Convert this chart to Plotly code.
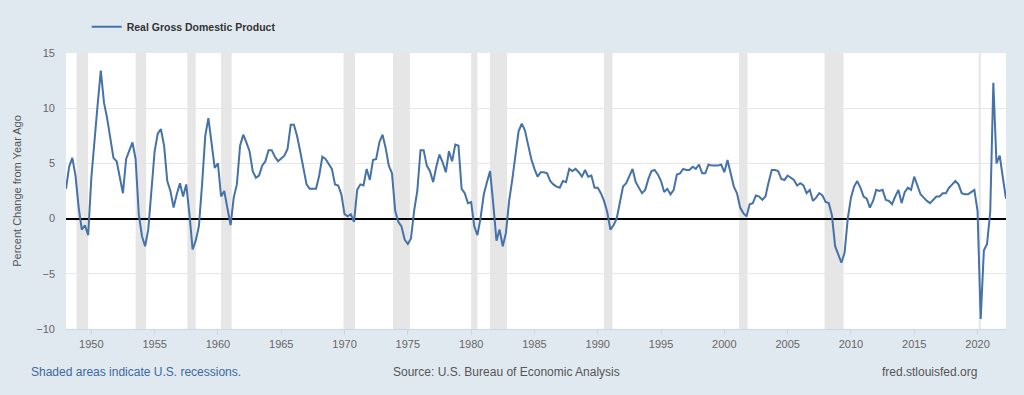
import pandas as pd
import plotly.graph_objects as go

# Real GDP, percent change from year ago, quarterly from 1948 Q1
start_quarter = "1948-01-01"
gdp_pc1 = [
    2.7, 4.7, 5.5, 3.9, 1.0, -1.0, -0.6, -1.5,            # 1948-1949
    3.7, 7.2, 10.3, 13.4, 10.5, 9.1, 7.2, 5.5,            # 1950-1951
    5.2, 3.7, 2.3, 5.4, 6.1, 6.9, 5.4, 0.4,               # 1952-1953
    -1.6, -2.5, -1.0, 2.8, 6.1, 7.7, 8.1, 6.6,            # 1954-1955
    3.4, 2.5, 1.0, 2.2, 3.2, 2.0, 3.1, 0.4,               # 1956-1957
    -2.8, -2.0, -0.7, 3.1, 7.5, 9.1, 6.9, 4.6,            # 1958-1959
    5.0, 2.0, 2.5, 1.0, -0.6, 1.9, 3.1, 6.6,              # 1960-1961
    7.6, 6.9, 6.1, 4.3, 3.7, 3.9, 4.8, 5.2,               # 1962-1963
    6.2, 6.2, 5.6, 5.2, 5.5, 5.7, 6.3, 8.5,               # 1964-1965
    8.5, 7.5, 6.1, 4.5, 3.1, 2.7, 2.7, 2.7,               # 1966-1967
    3.9, 5.6, 5.4, 5.0, 4.5, 3.1, 3.0, 2.2,               # 1968-1969
    0.4, 0.2, 0.4, -0.3, 2.6, 3.1, 3.0, 4.5,              # 1970-1971
    3.5, 5.3, 5.4, 6.9, 7.6, 6.4, 4.8, 4.1,               # 1972-1973
    0.7, -0.3, -0.7, -1.9, -2.3, -1.8, 0.7, 2.5,          # 1974-1975
    6.2, 6.2, 4.8, 4.3, 3.3, 4.7, 5.8, 5.1,               # 1976-1977
    4.2, 6.1, 5.2, 6.7, 6.6, 2.7, 2.3, 1.4,               # 1978-1979
    1.5, -0.7, -1.5, 0.1, 2.2, 3.3, 4.3, 1.3,             # 1980-1981
    -2.0, -1.0, -2.5, -1.3, 1.6, 3.5, 5.7, 7.9,           # 1982-1983
    8.6, 8.0, 6.7, 5.4, 4.5, 3.8, 4.2, 4.2,               # 1984-1985
    4.1, 3.4, 3.1, 2.9, 2.8, 3.4, 3.3, 4.5,               # 1986-1987
    4.3, 4.5, 4.2, 3.8, 4.4, 3.8, 3.9, 2.8,               # 1988-1989
    2.8, 2.3, 1.6, 0.6, -1.0, -0.6, 0.0, 1.6,             # 1990-1991
    2.9, 3.2, 3.8, 4.5, 3.3, 2.8, 2.3, 2.6,               # 1992-1993
    3.6, 4.3, 4.4, 4.0, 3.4, 2.4, 2.7, 2.2,               # 1994-1995
    2.6, 4.0, 4.1, 4.5, 4.4, 4.4, 4.7, 4.5,               # 1996-1997
    4.9, 4.1, 4.1, 4.9, 4.8, 4.8, 4.8, 4.9,               # 1998-1999
    4.2, 5.3, 4.0, 2.9, 2.3, 1.0, 0.5, 0.2,               # 2000-2001
    1.3, 1.4, 2.1, 2.0, 1.7, 2.0, 3.3, 4.4,               # 2002-2003
    4.4, 4.3, 3.6, 3.5, 3.9, 3.7, 3.5, 3.0,               # 2004-2005
    3.2, 3.0, 2.3, 2.6, 1.6, 1.9, 2.3, 2.1,               # 2006-2007
    1.5, 1.4, 0.3, -2.5, -3.2, -4.0, -3.1, 0.0,           # 2008-2009
    1.9, 2.9, 3.4, 2.8, 2.0, 1.8, 1.0, 1.6,               # 2010-2011
    2.6, 2.5, 2.6, 1.7, 1.6, 1.3, 2.0, 2.6,               # 2012-2013
    1.4, 2.4, 2.8, 2.6, 3.8, 3.0, 2.2, 1.9,               # 2014-2015
    1.6, 1.4, 1.7, 2.0, 2.0, 2.3, 2.3, 2.8,               # 2016-2017
    3.1, 3.4, 3.1, 2.3, 2.2, 2.2, 2.4, 2.6,               # 2018-2019
    0.7, -9.1, -2.9, -2.3, 0.6, 12.3, 5.0, 5.7,           # 2020-2021
    3.7, 1.8,                                              # 2022
]

recession_starts = ["1948-11-01", "1953-07-01", "1957-08-01", "1960-04-01",
                    "1969-12-01", "1973-11-01", "1980-01-01", "1981-07-01",
                    "1990-07-01", "2001-03-01", "2007-12-01", "2020-02-01"]
recession_ends = ["1949-10-01", "1954-05-01", "1958-04-01", "1961-02-01",
                  "1970-11-01", "1975-03-01", "1980-07-01", "1982-11-01",
                  "1991-03-01", "2001-11-01", "2009-06-01", "2020-04-01"]

y_ticks = [-10, -5, 0, 5, 10, 15]
x_tick_years = list(range(1950, 2021, 5))

dates = pd.date_range(start_quarter, periods=len(gdp_pc1), freq="QS")

FONT = "Liberation Sans, Arial, Helvetica, sans-serif"

fig = go.Figure()
fig.add_trace(go.Scatter(
    x=dates, y=gdp_pc1, mode="lines", name="Real Gross Domestic Product",
    line=dict(color="#4572a7", width=2),
))

shapes = []
for s, e in zip(recession_starts, recession_ends):
    shapes.append(dict(type="rect", xref="x", yref="paper", x0=s, x1=e, y0=0, y1=1,
                       fillcolor="#e6e6e6", line=dict(width=0), layer="below"))

fig.update_layout(
    width=1024, height=395,
    margin=dict(l=66, r=18, t=44, b=66),
    paper_bgcolor="#e1e9f0",
    plot_bgcolor="#ffffff",
    font=dict(family=FONT, color="#333333", size=11),
    shapes=shapes,
    showlegend=True,
    legend=dict(orientation="h", x=0.022, xanchor="left", y=1.0947, yanchor="middle",
                font=dict(family=FONT, size=10.5, color="#333333", weight="bold"),
                bgcolor="rgba(0,0,0,0)"),
    xaxis=dict(
        type="date",
        range=[dates[0], dates[-1]],
        tickvals=[pd.Timestamp(f"{yr}-01-01") for yr in x_tick_years],
        ticktext=[str(yr) for yr in x_tick_years],
        showgrid=False, zeroline=False,
        showline=True, linecolor="#ccd6eb", linewidth=1,
        ticks="outside", ticklen=5, tickcolor="#ccd6eb",
        tickfont=dict(family=FONT, size=11, color="#666666"),
    ),
    yaxis=dict(
        range=[-10, 15],
        tickvals=y_ticks,
        showgrid=True, gridcolor="#e6e6e6", gridwidth=1,
        zeroline=True, zerolinecolor="#000000", zerolinewidth=2,
        ticks="", ticklabelstandoff=10,
        tickfont=dict(family=FONT, size=11, color="#666666"),
        title=dict(text="Percent Change from Year Ago",
                   font=dict(family=FONT, size=11, color="#555555"), standoff=12),
    ),
    annotations=[
        dict(text="Shaded areas indicate U.S. recessions.", xref="paper", yref="paper",
             x=-0.0394, y=-0.154, xanchor="left", yanchor="middle", showarrow=False,
             font=dict(family=FONT, size=12, color="#3b6aa0")),
        dict(text="Source: U.S. Bureau of Economic Analysis", xref="paper", yref="paper",
             x=0.469, y=-0.154, xanchor="center", yanchor="middle", showarrow=False,
             font=dict(family=FONT, size=12, color="#555555")),
        dict(text="fred.stlouisfed.org", xref="paper", yref="paper",
             x=0.971, y=-0.154, xanchor="right", yanchor="middle", showarrow=False,
             font=dict(family=FONT, size=12, color="#555555")),
    ],
)

fig.write_html("out.html",
               config={"displayModeBar": False},
               post_script="document.body.style.margin='0';document.body.style.padding='0';")
